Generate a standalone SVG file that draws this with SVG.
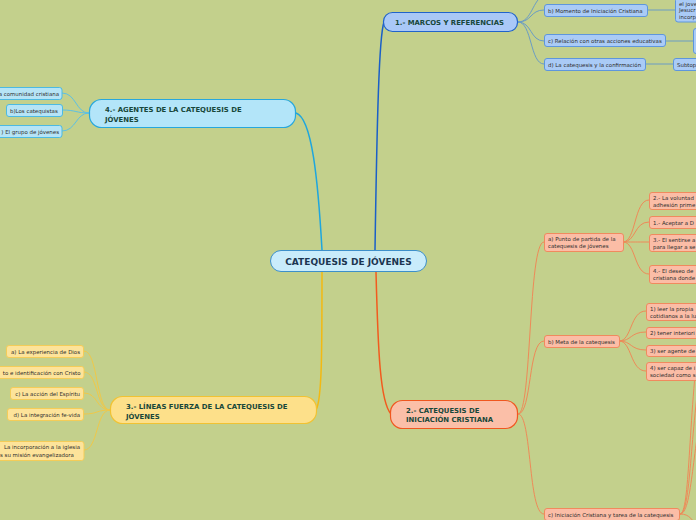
<svg xmlns="http://www.w3.org/2000/svg" width="696" height="520" viewBox="0 0 696 520">
<style>
.t{font-family:"DejaVu Sans",Verdana,sans-serif;font-size:5.45px;fill:#2e2e2e}
.h{font-family:"DejaVu Sans",Verdana,sans-serif;font-weight:bold;font-size:6.9px;fill:#17473a}
.c1{fill:none;stroke:#6a9cc4;stroke-width:1}
.c4{fill:none;stroke:#5cc0e4;stroke-width:1}
.c3{fill:none;stroke:#f0c848;stroke-width:1}
.c2{fill:none;stroke:#ee8a58;stroke-width:1}
.n1{fill:#aacbf6;stroke:#5e96dc;stroke-width:1}
.n4{fill:#b6e4f6;stroke:#4cbae2;stroke-width:1}
.n3{fill:#fde39a;stroke:#f4cc58;stroke-width:1}
.n2{fill:#fbbda6;stroke:#f08a5e;stroke-width:1}
</style>
<rect width="696" height="520" fill="#c3d08c"/>
<g id="connectors">
<path d="M375 250 C377 120 379 36 384 22" fill="none" stroke="#1a5fc8" stroke-width="1.5"/>
<path d="M322 250 C318 180 312 118 296 113" fill="none" stroke="#1ea6de" stroke-width="1.5"/>
<path d="M322 272 C322 350 322 400 316 410" fill="none" stroke="#f3b912" stroke-width="1.5"/>
<path d="M376 272 C378 350 380 402 391 414" fill="none" stroke="#f25a1e" stroke-width="1.5"/>
<path class="c1" d="M518 22 C532 22 532 0 545 -6"/>
<path class="c1" d="M518 22 C532 22 530 10 544 10"/>
<path class="c1" d="M518 22 C532 22 530 41 544 41"/>
<path class="c1" d="M518 22 C532 22 530 64 544 64"/>
<path class="c1" d="M648 10 H675"/>
<path class="c1" d="M666 41 H693"/>
<path class="c1" d="M646 64 H673"/>
<path class="c4" d="M89 113 C76 113 76 93 62 93"/>
<path class="c4" d="M89 113 C76 113 76 110 62 110"/>
<path class="c4" d="M89 113 C76 113 76 131 62 131"/>
<path class="c3" d="M110 410 C96 410 98 351 84 351"/>
<path class="c3" d="M110 410 C96 410 98 372 84 372"/>
<path class="c3" d="M110 410 C96 410 98 393 84 393"/>
<path class="c3" d="M110 410 C96 410 98 414 84 414"/>
<path class="c3" d="M110 410 C96 410 98 450 84 450"/>
<path class="c2" d="M518 414 C532 414 528 242 544 242"/>
<path class="c2" d="M518 414 C532 414 528 341 544 341"/>
<path class="c2" d="M518 414 C532 414 528 514 544 514"/>
<path class="c2" d="M623 242 C636 242 634 200 649 200"/>
<path class="c2" d="M623 242 C636 242 634 222 649 222"/>
<path class="c2" d="M623 242 C636 242 634 242 649 242"/>
<path class="c2" d="M623 242 C636 242 634 274 649 274"/>
<path class="c2" d="M619 341 C632 341 630 311 646 311"/>
<path class="c2" d="M619 341 C632 341 630 332 646 332"/>
<path class="c2" d="M619 341 C632 341 630 350 646 350"/>
<path class="c2" d="M619 341 C632 341 630 371 646 371"/>
<path class="c2" d="M680 514 C690 514 688 420 700 330"/>
<path class="c2" d="M680 514 C691 514 690 430 702 360"/>
<path class="c2" d="M680 514 C692 514 692 450 704 400"/>
<path class="c2" d="M680 514 C690 514 692 520 700 530"/>
</g>
<g id="center">
<rect x="270.5" y="250.5" width="156" height="21" rx="10.5" fill="#c9ecfb" stroke="#3d8fca" stroke-width="1"/>
<text x="348.5" y="264.8" text-anchor="middle" class="h" style="font-size:9px;fill:#1c3550">CATEQUESIS DE JÓVENES</text>
</g>
<g id="n1">
<rect x="383.5" y="12.5" width="134" height="19" rx="9" fill="#a9c8f7" stroke="#2063cb" stroke-width="1.2"/>
<text x="395" y="24.8" class="h">1.- MARCOS Y REFERENCIAS</text>
</g>
<g id="n1a"><rect class="n1" x="544.5" y="-8" width="100" height="6" rx="2"/></g>
<g id="n1b"><rect class="n1" x="544.5" y="4.5" width="103" height="12" rx="2.5"/><text class="t" x="548" y="12.6">b) Momento de Iniciación Cristiana</text></g>
<g id="n1c"><rect class="n1" x="544.5" y="34.5" width="121" height="12" rx="2.5"/><text class="t" x="548" y="42.6">c) Relación con otras acciones educativas</text></g>
<g id="n1d"><rect class="n1" x="544.5" y="58.5" width="101" height="12" rx="2.5"/><text class="t" x="548" y="66.6">d) La catequesis y la confirmación</text></g>
<g id="n1b1"><rect class="n1" x="675.5" y="-2" width="30" height="24" rx="2.5"/><text class="t" x="679" y="6.2">el jove</text><text class="t" x="679" y="12.4">Jesucr</text><text class="t" x="679" y="18.6">incorp</text></g>
<g id="n1c1"><rect class="n1" x="693.5" y="28.5" width="10" height="25" rx="2.5"/></g>
<g id="n1d1"><rect class="n1" x="673.5" y="58.5" width="30" height="12" rx="2.5"/><text class="t" x="677" y="66.6">Subtop</text></g>
<g id="n4">
<rect x="89.5" y="99.5" width="206" height="28" rx="12" fill="#b3e5f9" stroke="#27a7dc" stroke-width="1.2"/>
<text x="105" y="111.5" class="h">4.- AGENTES DE LA CATEQUESIS DE</text>
<text x="105" y="121.5" class="h">JÓVENES</text>
</g>
<g id="n4a"><rect class="n4" x="-40" y="87.5" width="102" height="12" rx="2.5"/><text class="t" x="59" y="95.6" text-anchor="end">a comunidad cristiana</text></g>
<g id="n4b"><rect class="n4" x="6.5" y="104.5" width="56" height="12" rx="2.5"/><text class="t" x="10" y="112.6">b)Los catequistas</text></g>
<g id="n4c"><rect class="n4" x="-30" y="125.5" width="92" height="12" rx="2.5"/><text class="t" x="59" y="133.6" text-anchor="end">) El grupo de jóvenes</text></g>
<g id="n3">
<rect x="110.5" y="396.5" width="206" height="27" rx="12" fill="#fde08a" stroke="#f1c232" stroke-width="1.2"/>
<text x="126" y="408.5" class="h">3.- LÍNEAS FUERZA DE LA CATEQUESIS DE</text>
<text x="126" y="418.5" class="h">JÓVENES</text>
</g>
<g id="n3a"><rect class="n3" x="6.5" y="345.5" width="77" height="12" rx="2.5"/><text class="t" x="80" y="353.6" text-anchor="end">a) La experiencia de Dios</text></g>
<g id="n3b"><rect class="n3" x="-40" y="366.5" width="124" height="12" rx="2.5"/><text class="t" x="80.5" y="374.6" text-anchor="end">to e identificación con Cristo</text></g>
<g id="n3c"><rect class="n3" x="10.5" y="387.5" width="73" height="12" rx="2.5"/><text class="t" x="80" y="395.6" text-anchor="end">c) La acción del Espíritu</text></g>
<g id="n3d"><rect class="n3" x="7.5" y="408.5" width="76" height="12" rx="2.5"/><text class="t" x="80" y="416.6" text-anchor="end">d) La integración fe-vida</text></g>
<g id="n3e"><rect class="n3" x="-40" y="441.5" width="124" height="19" rx="2.5"/><text class="t" x="80" y="449.3" text-anchor="end">La incorporación a la iglesia</text><text class="t" x="0" y="456.5">s su misión evangelizadora</text></g>
<g id="n2">
<rect x="390.5" y="400.5" width="127" height="28" rx="12" fill="#fbbfa8" stroke="#f0571f" stroke-width="1.2"/>
<text x="406" y="412.5" class="h">2.- CATEQUESIS DE</text>
<text x="406" y="422" class="h">INICIACIÓN CRISTIANA</text>
</g>
<g id="n2a"><rect class="n2" x="544.5" y="233.5" width="79" height="18" rx="2.5"/><text class="t" x="548" y="240.8">a) Punto de partida de la</text><text class="t" x="548" y="247.8">catequesis de jóvenes</text></g>
<g id="n2b"><rect class="n2" x="544.5" y="335.5" width="75" height="12" rx="2.5"/><text class="t" x="548" y="343.6">b) Meta de la catequesis</text></g>
<g id="n2c"><rect class="n2" x="544.5" y="508.5" width="135" height="12" rx="2.5"/><text class="t" x="548" y="516.6">c) Iniciación Cristiana y tarea de la catequesis</text></g>
<g id="n2a1"><rect class="n2" x="649.5" y="192.5" width="60" height="17" rx="2.5"/><text class="t" x="653" y="199.7">2.- La voluntad</text><text class="t" x="653" y="206.5">adhesión prime</text></g>
<g id="n2a2"><rect class="n2" x="649.5" y="216.5" width="60" height="12" rx="2.5"/><text class="t" x="653" y="224.6">1.- Aceptar a D</text></g>
<g id="n2a3"><rect class="n2" x="649.5" y="234.5" width="60" height="17" rx="2.5"/><text class="t" x="653" y="241.7">3.- El sentirse a</text><text class="t" x="653" y="248.5">para llegar a se</text></g>
<g id="n2a4"><rect class="n2" x="649.5" y="265.5" width="60" height="18" rx="2.5"/><text class="t" x="653" y="272.7">4.- El deseo de</text><text class="t" x="653" y="279.7">cristiana donde</text></g>
<g id="n2b1"><rect class="n2" x="646.5" y="303.5" width="60" height="17" rx="2.5"/><text class="t" x="650" y="310.7">1) leer la propia</text><text class="t" x="650" y="317.5">cotidianos a la lu</text></g>
<g id="n2b2"><rect class="n2" x="646.5" y="327.5" width="60" height="11" rx="2.5"/><text class="t" x="650" y="335">2) tener interiori</text></g>
<g id="n2b3"><rect class="n2" x="646.5" y="345.5" width="60" height="11" rx="2.5"/><text class="t" x="650" y="353">3) ser agente de</text></g>
<g id="n2b4"><rect class="n2" x="646.5" y="362.5" width="60" height="18" rx="2.5"/><text class="t" x="650" y="369.7">4) ser capaz de i</text><text class="t" x="650" y="376.7">sociedad como s</text></g>
</svg>
